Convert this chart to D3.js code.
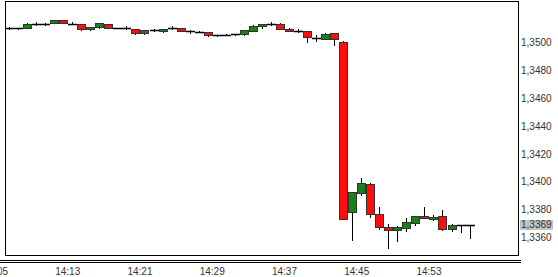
<!DOCTYPE html>
<html>
<head>
<meta charset="utf-8">
<script src="https://cdn.jsdelivr.net/npm/d3@7"></script>
<style>
  body { margin: 0; background: #fff; }
  text { font-family: "Liberation Sans", Arial, sans-serif; font-size: 10px; fill: #333; }
</style>
</head>
<body>
<div class="chart"></div>
<script>
// one-minute candles
var times = ["14:06","14:07","14:08","14:09","14:10","14:11","14:12","14:13","14:14","14:15",
  "14:16","14:17","14:18","14:19","14:20","14:21","14:22","14:23","14:24","14:25",
  "14:26","14:27","14:28","14:29","14:30","14:31","14:32","14:33","14:34","14:35",
  "14:36","14:37","14:38","14:39","14:40","14:41","14:42","14:43","14:44","14:45",
  "14:46","14:47","14:48","14:49","14:50","14:51","14:52","14:53","14:54","14:55",
  "14:56","14:57"];

var opens = [1.35105,1.35102,1.35112,1.35138,1.35138,1.35141,1.35163,1.35140,1.35134,1.35098,
  1.35112,1.35134,1.35107,1.35107,1.35098,1.35066,1.35091,1.35083,1.35103,1.35105,
  1.35088,1.35083,1.35076,1.35055,1.35057,1.35062,1.35062,1.35091,1.35124,1.35136,
  1.35134,1.35098,1.35086,1.35083,1.35035,1.35030,1.35069,1.35009,1.33781,1.33918,
  1.33985,1.33767,1.33673,1.33659,1.33666,1.33706,1.33757,1.33738,1.33753,1.33659,
  1.33690,1.33690];

var highs = [1.35112,1.35108,1.35145,1.35148,1.35141,1.35165,1.35165,1.35148,1.35138,1.35114,
  1.35143,1.35138,1.35110,1.35124,1.35100,1.35093,1.35098,1.35100,1.35124,1.35107,
  1.35091,1.35086,1.35078,1.35057,1.35062,1.35066,1.35093,1.35131,1.35138,1.35153,
  1.35145,1.35105,1.35098,1.35088,1.35055,1.35071,1.35071,1.35012,1.33928,1.34028,
  1.33994,1.33817,1.33697,1.33680,1.33738,1.33757,1.33817,1.33762,1.33798,1.33695,
  1.33693,1.33693];

var lows = [1.35098,1.35100,1.35112,1.35131,1.35131,1.35141,1.35140,1.35134,1.35095,1.35095,
  1.35110,1.35105,1.35104,1.35100,1.35066,1.35064,1.35083,1.35081,1.35100,1.35084,
  1.35069,1.35079,1.35050,1.35050,1.35055,1.35060,1.35060,1.35089,1.35105,1.35131,
  1.35098,1.35084,1.35076,1.35004,1.35016,1.35028,1.34987,1.33733,1.33582,1.33906,
  1.33745,1.33661,1.33527,1.33577,1.33647,1.33690,1.33743,1.33726,1.33657,1.33647,
  1.33637,1.33599];

var closes = [1.35105,1.35106,1.35138,1.35138,1.35136,1.35163,1.35141,1.35138,1.35098,1.35112,
  1.35141,1.35107,1.35107,1.35105,1.35069,1.35091,1.35091,1.35098,1.35105,1.35086,
  1.35083,1.35081,1.35052,1.35055,1.35059,1.35064,1.35091,1.35124,1.35136,1.35136,
  1.35100,1.35086,1.35086,1.35040,1.35035,1.35066,1.35026,1.33735,1.33925,1.33990,
  1.33767,1.33673,1.33655,1.33678,1.33709,1.33755,1.33745,1.33750,1.33659,1.33690,
  1.33690,1.33690];

var xTickLabels = ["14:05","14:13","14:21","14:29","14:37","14:45","14:53"];
var yTickValues = [1.3360,1.3380,1.3400,1.3420,1.3440,1.3460,1.3480,1.3500];

var svgWidth = 558;
var svgHeight = 277;

// plot box
var box = { left: 5.5, top: 1.5, right: 518.5, bottom: 255.5 };

var parseTime = d3.timeParse("%H:%M");

var candles = times.map(function(t, i) {
  return { t: parseTime(t), o: opens[i], h: highs[i], l: lows[i], c: closes[i] };
});

var svg = d3.select(".chart")
  .append("svg")
  .attr("width", svgWidth)
  .attr("height", svgHeight);

// scales
var xScale = d3.scaleTime()
  .domain([parseTime("14:05"), parseTime("15:00")])
  .range([-4.5, 492.15]);

var yScale = d3.scaleLinear()
  .domain([1.3360, 1.3500])
  .range([237.5, 42.9]);

var fmt = function(v) { return d3.format(".4f")(v).replace(".", ","); };

// clip for candles
svg.append("clipPath")
  .attr("id", "plotclip")
  .append("rect")
  .attr("x", box.left)
  .attr("y", box.top)
  .attr("width", box.right - box.left)
  .attr("height", box.bottom - box.top);

var plot = svg.append("g").attr("clip-path", "url(#plotclip)");

function cx(d) {
  return Math.round(xScale(d3.timeSecond.offset(d.t, 30))) + 0.5;
}

// wicks
plot.selectAll(".wick")
  .data(candles)
  .enter()
  .append("line")
  .attr("class", "wick")
  .attr("x1", cx)
  .attr("x2", cx)
  .attr("y1", d => Math.round(yScale(d.h)))
  .attr("y2", d => Math.round(yScale(d.l)) + 1)
  .attr("stroke", "#000")
  .attr("stroke-width", 1);

// bodies
var bodies = candles.filter(d => Math.abs(yScale(d.o) - yScale(d.c)) >= 1.5);
var dojis = candles.filter(d => Math.abs(yScale(d.o) - yScale(d.c)) < 1.5);

plot.selectAll(".body")
  .data(bodies)
  .enter()
  .append("rect")
  .attr("class", "body")
  .attr("x", d => cx(d) - 4)
  .attr("width", 8)
  .attr("y", d => Math.round(yScale(Math.max(d.o, d.c))) + 0.5)
  .attr("height", d => Math.round(Math.abs(yScale(d.o) - yScale(d.c))))
  .attr("fill", d => d.c >= d.o ? "#178217" : "#ff0d0d")
  .attr("stroke", "#333")
  .attr("stroke-width", 1);

plot.selectAll(".doji")
  .data(dojis)
  .enter()
  .append("line")
  .attr("class", "doji")
  .attr("x1", d => cx(d) - 4.5)
  .attr("x2", d => cx(d) + 4.5)
  .attr("y1", d => Math.round(yScale(d.c)) + 0.5)
  .attr("y2", d => Math.round(yScale(d.c)) + 0.5)
  .attr("stroke", "#000")
  .attr("stroke-width", 1.5);

// frame
svg.append("rect")
  .attr("x", box.left)
  .attr("y", box.top)
  .attr("width", box.right - box.left)
  .attr("height", box.bottom - box.top)
  .attr("fill", "none")
  .attr("stroke", "#000");

// double rule under the plot
[260.5, 262.5].forEach(function(yy) {
  svg.append("line")
    .attr("x1", 0).attr("x2", 521)
    .attr("y1", yy).attr("y2", yy)
    .attr("stroke", "#000");
});

// y labels on the right
svg.selectAll(".ylab")
  .data(yTickValues)
  .enter()
  .append("text")
  .attr("class", "ylab")
  .attr("x", 521)
  .attr("y", d => yScale(d))
  .attr("dy", "0.35em")
  .text(fmt);

// last price marker
var last = candles[candles.length - 1];
svg.append("rect")
  .attr("x", 520)
  .attr("y", yScale(last.c) - 5)
  .attr("width", 33)
  .attr("height", 10)
  .attr("fill", "#c3c3c3");
svg.append("text")
  .attr("x", 521)
  .attr("y", yScale(last.c))
  .attr("dy", "0.35em")
  .text(fmt(last.c));

// x labels
svg.selectAll(".xlab")
  .data(xTickLabels)
  .enter()
  .append("text")
  .attr("class", "xlab")
  .attr("x", d => xScale(parseTime(d)))
  .attr("y", 271)
  .attr("dy", "0.35em")
  .attr("text-anchor", "middle")
  .text(d => d);
</script>
</body>
</html>
